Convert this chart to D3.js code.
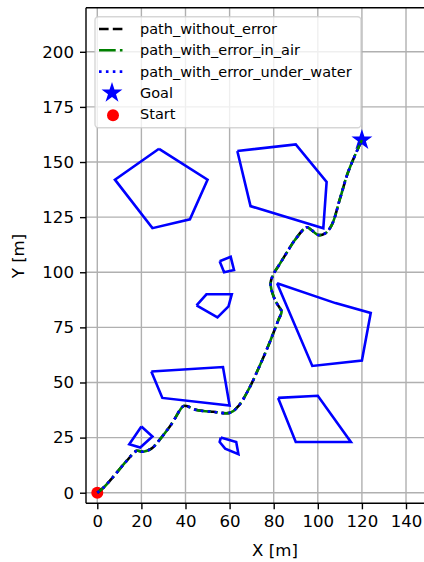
<!DOCTYPE html>
<html><head><meta charset="utf-8">
<script src="https://cdn.jsdelivr.net/npm/d3@7/dist/d3.min.js"></script>
<style>html,body{margin:0;padding:0;background:#fff;}svg{display:block;font-family:"DejaVu Sans",sans-serif;}</style>
</head><body>
<script>
// ---- data ----
const xTicks = [0, 20, 40, 60, 80, 100, 120, 140];
const yTicks = [0, 25, 50, 75, 100, 125, 150, 175, 200];
const legendLabels = ["path_without_error", "path_with_error_in_air", "path_with_error_under_water", "Goal", "Start"];
const startPoint = [0, 0];
const goalPoint = [120, 160];
const obstacles = [
  [[28,156],[50,142],[42,124],[25,120],[8,142]],
  [[63.5,155],[90,158],[104,141],[102.5,120],[69.5,130]],
  [[55.5,105],[60.5,107],[62,101],[57.5,100]],
  [[45,85],[49.5,90],[61,90],[59.5,84.5],[54.5,79.5]],
  [[81.5,95],[108,86],[124,81.5],[120,60],[97.5,57.5]],
  [[24.5,55],[57,57],[60,39.5],[29.5,43]],
  [[82,43],[100,44],[115,23],[90,23]],
  [[20,30],[25,25.5],[19.5,20.5],[14.5,22]],
  [[56,25],[63,23],[64,17.5],[58,20],[55.5,23]]
];
const pathWithoutError = [[0,0],[3,2.5],[7.3,7.3],[13.3,14.4],[17.9,19],[20.9,18.6],[24.7,20.1],[28.4,24.2],[33.7,31.2],[39,39.3],[40.5,39.3],[45.1,37.5],[52.6,36.7],[60.2,36.3],[64,39.3],[68.5,46.6],[73.8,57.9],[78.3,68.5],[82.1,78.3],[83.6,82.1],[82.9,83.6],[80.6,87.4],[78.6,95],[80.1,99.5],[82.9,104],[86.6,110],[89.6,114.6],[95,120.4],[97.2,119.1],[100.2,116.9],[103.3,117.6],[106.3,121.4],[110.1,133.5],[113.8,145.6],[120,160]];
const pathErrorAir = [[0,0],[3,2.5],[7.3,7.3],[13.3,14.4],[17.9,19],[20.9,18.6],[24.7,20.1],[28.4,24.2],[33.7,31.2],[39,39.3],[40.5,39.3],[45.1,37.5],[52.6,36.7],[60.2,36.3],[64,39.3],[68.5,46.6],[73.8,57.9],[78.3,68.5],[82.1,78.3],[83.6,82.1],[82.9,83.6],[80.6,87.4],[78.6,95],[80.1,99.5],[82.9,104],[86.6,110],[89.6,114.6],[95,120.4],[97.2,119.1],[100.2,116.9],[103.3,117.6],[106.3,121.4],[110.1,133.5],[113.8,145.6],[120,160]];
const pathErrorWater = [[0,0],[3,2.5],[7.3,7.3],[13.3,14.4],[17.9,19],[20.9,18.6],[24.7,20.1],[28.4,24.2],[33.7,31.2],[39,39.3],[40.5,39.3],[45.1,37.5],[52.6,36.7],[60.2,36.3],[64,39.3],[68.5,46.6],[73.8,57.9],[78.3,68.5],[82.1,78.3],[83.6,82.1],[82.9,83.6],[80.6,87.4],[78.6,95],[80.1,99.5],[82.9,104],[86.6,110],[89.6,114.6],[95,120.4],[97.2,119.1],[100.2,116.9],[103.3,117.6],[106.3,121.4],[110.1,133.5],[113.8,145.6],[120,160]];

// ---- layout ----
const W = 424, H = 562;
const L = 86, R = 464, T = 7.7, B = 503.3;
const x = d3.scaleLinear().domain([-5.12, 166.3]).range([L, R]);
const y = d3.scaleLinear().domain([-4.8, 220]).range([B, T]);

const svg = d3.select("body").append("svg").attr("width", W).attr("height", H);
svg.append("rect").attr("width", W).attr("height", H).attr("fill", "#fff");

svg.append("defs").append("clipPath").attr("id","clip")
  .append("rect").attr("x", L).attr("y", T).attr("width", R-L).attr("height", B-T);

// grid
const grid = svg.append("g").attr("clip-path","url(#clip)");
grid.selectAll(".gx").data(xTicks).enter().append("line")
  .attr("x1", d=>x(d)).attr("x2", d=>x(d)).attr("y1", T).attr("y2", B)
  .attr("stroke", "#b0b0b0").attr("stroke-width", 1.4);
grid.selectAll(".gy").data(yTicks).enter().append("line")
  .attr("x1", L).attr("x2", R).attr("y1", d=>y(d)).attr("y2", d=>y(d))
  .attr("stroke", "#b0b0b0").attr("stroke-width", 1.4);

function starPath(r) {
  const ri = r * 0.381966;
  const pts = [];
  for (let i = 0; i < 10; i++) {
    const a = -Math.PI/2 + i * Math.PI/5;
    const rr = i % 2 === 0 ? r : ri;
    pts.push([rr*Math.cos(a), rr*Math.sin(a)]);
  }
  return "M" + pts.map(p=>p[0].toFixed(2)+","+p[1].toFixed(2)).join("L") + "Z";
}

const plot = svg.append("g").attr("clip-path","url(#clip)");
// markers (scatter, below lines)
plot.append("path").attr("d", starPath(11))
  .attr("transform", `translate(${x(goalPoint[0])},${y(goalPoint[1])})`).attr("fill", "#0000ff");
plot.append("circle").attr("cx", x(startPoint[0])).attr("cy", y(startPoint[1])).attr("r", 6).attr("fill", "#ff0000");

const line = d3.line().x(d=>x(d[0])).y(d=>y(d[1])).curve(d3.curveCatmullRom.alpha(0.5));
const poly = d3.line().x(d=>x(d[0])).y(d=>y(d[1]));

plot.append("path").datum(pathWithoutError).attr("d", line).attr("fill","none")
  .attr("stroke","#000").attr("stroke-width",2.6).attr("stroke-dasharray","9.6,4.2");
plot.append("path").datum(pathErrorAir).attr("d", line).attr("fill","none")
  .attr("stroke","#008000").attr("stroke-width",2.6).attr("stroke-dasharray","16.7,4.2,2.6,4.2");
plot.append("path").datum(pathErrorWater).attr("d", line).attr("fill","none")
  .attr("stroke","#0000ff").attr("stroke-width",2.6).attr("stroke-dasharray","2.6,4.3");

plot.selectAll(".obs").data(obstacles).enter().append("path")
  .attr("d", d => poly(d.concat([d[0]])))
  .attr("fill","none").attr("stroke","#0000ff").attr("stroke-width",2.6).attr("stroke-linejoin","miter");

// spines
svg.append("line").attr("x1", L).attr("x2", L).attr("y1", T).attr("y2", B).attr("stroke","#000").attr("stroke-width",1.4);
svg.append("line").attr("x1", L).attr("x2", R).attr("y1", B).attr("y2", B).attr("stroke","#000").attr("stroke-width",1.4);
svg.append("line").attr("x1", L).attr("x2", R).attr("y1", T).attr("y2", T).attr("stroke","#000").attr("stroke-width",1.4);

// axes
const xAxis = d3.axisBottom(x).tickValues(xTicks).tickSize(6).tickPadding(6).tickFormat(d3.format("d"));
const yAxis = d3.axisLeft(y).tickValues(yTicks).tickSize(6).tickPadding(6).tickFormat(d3.format("d"));
const gx = svg.append("g").attr("transform", `translate(0,${B})`).call(xAxis);
const gy = svg.append("g").attr("transform", `translate(${L},0)`).call(yAxis);
[gx, gy].forEach(g => {
  g.select(".domain").remove();
  g.selectAll(".tick line").attr("stroke","#000").attr("stroke-width",1.4);
  g.selectAll(".tick text").attr("fill","#000").style("font-size","16.6px").style("font-family","DejaVu Sans");
});

svg.append("text").attr("x", x((-5.12+166.3)/2)).attr("y", 556).attr("text-anchor","middle")
  .style("font-size","16.6px").style("font-family","DejaVu Sans").text("X [m]");
svg.append("text").attr("transform", "translate(24,256) rotate(-90)").attr("text-anchor","middle")
  .style("font-size","16.6px").style("font-family","DejaVu Sans").text("Y [m]");

// legend
const lg = svg.append("g");
lg.append("rect").attr("x", 95).attr("y", 16.7).attr("width", 266).attr("height", 111).attr("rx", 3.5)
  .attr("fill","#fff").attr("fill-opacity",0.8).attr("stroke","#cccccc").attr("stroke-opacity",0.8).attr("stroke-width",1.4);
const rowY = [29, 50.3, 71.6, 92.9, 114.2];
const styles = [
  {c:"#000", dash:"9.6,4.2"},
  {c:"#008000", dash:"16.7,4.2,2.6,4.2"},
  {c:"#0000ff", dash:"2.6,4.3"}
];
styles.forEach((s,i) => {
  lg.append("line").attr("x1",99).attr("x2",125).attr("y1",rowY[i]).attr("y2",rowY[i])
    .attr("stroke",s.c).attr("stroke-width",2.6).attr("stroke-dasharray",s.dash);
});
lg.append("path").attr("d", starPath(11)).attr("transform",`translate(112,${rowY[3]})`).attr("fill","#0000ff");
lg.append("circle").attr("cx",113).attr("cy",rowY[4]+1).attr("r",6).attr("fill","#ff0000");
legendLabels.forEach((t,i) => {
  lg.append("text").attr("x",140).attr("y",rowY[i]+5).style("font-size","14.5px")
    .style("font-family","DejaVu Sans").attr("fill","#000").text(t);
});
</script>
</body></html>
